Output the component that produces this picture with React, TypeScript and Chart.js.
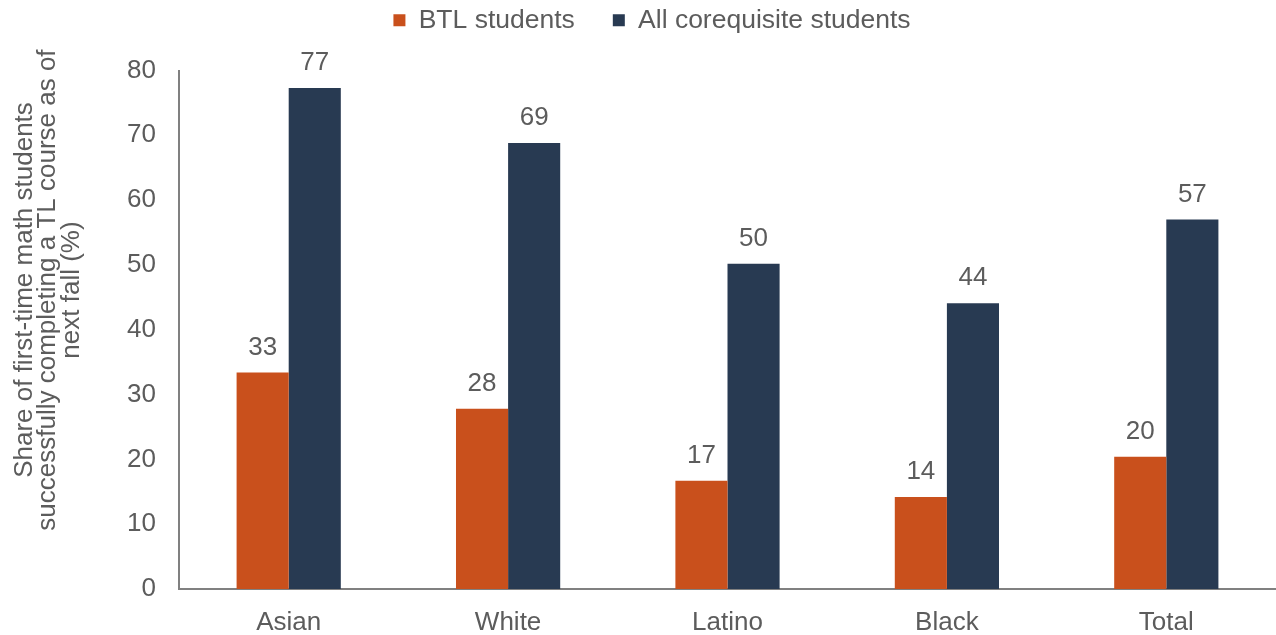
import React, { useEffect, useRef } from "react";
import { Chart, registerables } from "chart.js";

Chart.register(...registerables);

const categories = ["Asian", "White", "Latino", "Black", "Total"];
const btlValues = [33.4, 27.8, 16.7, 14.2, 20.4];
const allValues = [77.3, 68.8, 50.2, 44.1, 57.0];
const btlLabels = ["33", "28", "17", "14", "20"];
const allLabels = ["77", "69", "50", "44", "57"];
const seriesNames = ["BTL students", "All corequisite students"];
const yTitleLines = [
  "Share of first-time math students",
  "successfully completing a TL course as of",
  "next fall (%)",
];

const TEXT = "#5c5c5c";
const FONT = "'Liberation Sans', Arial, sans-serif";
const TITLE_LEAD = "           ";

const valueLabels = {
  id: "valueLabels",
  afterDatasetsDraw(chart: any) {
    const ctx = chart.ctx;
    ctx.save();
    ctx.fillStyle = TEXT;
    ctx.font = `26px ${FONT}`;
    ctx.textAlign = "center";
    ctx.textBaseline = "alphabetic";
    const lbls = [btlLabels, allLabels];
    chart.data.datasets.forEach((_: any, di: number) => {
      const meta = chart.getDatasetMeta(di);
      meta.data.forEach((bar: any, i: number) => {
        ctx.fillText(lbls[di][i], bar.x, bar.y - 18);
      });
    });
    ctx.restore();
  },
};

export default function App() {
  const ref = useRef<HTMLCanvasElement>(null);
  useEffect(() => {
    document.body.style.margin = "0";
    const chart = new Chart(ref.current as HTMLCanvasElement, {
      type: "bar",
      data: {
        labels: categories,
        datasets: [
          {
            label: seriesNames[0],
            data: btlValues,
            backgroundColor: "#C9501C",
            categoryPercentage: 0.475,
            barPercentage: 1,
          },
          {
            label: seriesNames[1],
            data: allValues,
            backgroundColor: "#283A52",
            categoryPercentage: 0.475,
            barPercentage: 1,
          },
        ],
      },
      options: {
        animation: false,
        responsive: false,
        maintainAspectRatio: false,
        layout: { padding: { top: -31, right: 0, left: 28, bottom: 0 } },
        plugins: {
          legend: {
            position: "top",
            labels: {
              boxWidth: 12,
              boxHeight: 12,
              padding: 38,
              color: TEXT,
              font: { family: FONT, size: 26.5 },
            },
          },
          subtitle: {
            display: true,
            text: " ",
            position: "top",
            weight: 500,
            font: { size: 1, lineHeight: 1 },
            padding: { top: 0, bottom: 26 },
          },
          tooltip: { enabled: false },
        },
        scales: {
          x: {
            grid: { display: false },
            border: { display: true, color: "#808080", width: 2 },
            ticks: {
              color: TEXT,
              padding: 10,
              font: { family: FONT, size: 26 },
            },
            afterFit(scale: any) {
              scale.height = 46;
            },
          },
          y: {
            min: 0,
            max: 80,
            grid: { display: false },
            border: { display: true, color: "#808080", width: 2 },
            ticks: {
              stepSize: 10,
              color: TEXT,
              padding: 15,
              font: { family: FONT, size: 26 },
            },
            title: {
              display: true,
              text: yTitleLines.map((l) => TITLE_LEAD + l),
              color: TEXT,
              padding: { top: -15, bottom: 0 },
              font: { family: FONT, size: 26, lineHeight: 0.9 },
            },
            afterFit(scale: any) {
              scale.width = 151;
            },
          },
        },
      },
      plugins: [valueLabels],
    });
    return () => chart.destroy();
  }, []);
  return (
    <div style={{ position: "absolute", left: 0, top: 0, width: 1276, height: 635 }}>
      <canvas ref={ref} width={1276} height={635} style={{ width: 1276, height: 635 }} />
    </div>
  );
}
